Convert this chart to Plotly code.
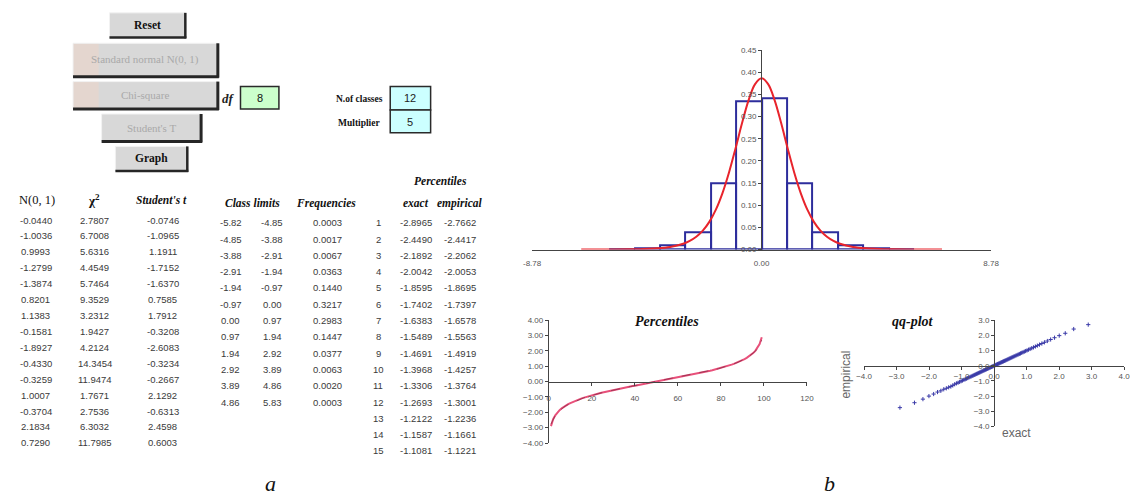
import plotly.graph_objects as go

W, H = 1140, 504

# ---------------- data ----------------
norm_vals = [-0.0440, -1.0036, 0.9993, -1.2799, -1.3874, 0.8201, 1.1383, -0.1581,
             -1.8927, -0.4330, -0.3259, 1.0007, -0.3704, 2.1834, 0.7290]
chi_vals = [2.7807, 6.7008, 5.6316, 4.4549, 5.7464, 9.3529, 3.2312, 1.9427,
            4.2124, 14.3454, 11.9474, 1.7671, 2.7536, 6.3032, 11.7985]
t_vals = [-0.0746, -1.0965, 1.1911, -1.7152, -1.6370, 0.7585, 1.7912, -0.3208,
          -2.6083, -0.3234, -0.2667, 2.1292, -0.6313, 2.4598, 0.6003]

class_lo = [-5.82, -4.85, -3.88, -2.91, -1.94, -0.97, 0.00, 0.97, 1.94, 2.92, 3.89, 4.86]
class_hi = [-4.85, -3.88, -2.91, -1.94, -0.97, 0.00, 0.97, 1.94, 2.92, 3.89, 4.86, 5.83]
frequencies = [0.0003, 0.0017, 0.0067, 0.0363, 0.1440, 0.3217, 0.2983, 0.1447,
               0.0377, 0.0063, 0.0020, 0.0003]

pct_rows = list(range(1, 16))
exact_tab = [-2.8965, -2.4490, -2.1892, -2.0042, -1.8595, -1.7402, -1.6383, -1.5489,
             -1.4691, -1.3968, -1.3306, -1.2693, -1.2122, -1.1587, -1.1081]
empirical_tab = [-2.7662, -2.4417, -2.2062, -2.0053, -1.8695, -1.7397, -1.6578, -1.5563,
                 -1.4919, -1.4257, -1.3764, -1.3001, -1.2236, -1.1661, -1.1221]

# histogram chart (density heights)
hist_heights = [0.0005, 0.002, 0.009, 0.040, 0.150, 0.334, 0.342, 0.150, 0.040, 0.009, 0.002, 0.0005]
curve_x = [-6.9, -6.0, -5.0, -4.5, -4.0, -3.5, -3.0, -2.75, -2.5, -2.25, -2.0, -1.75, -1.5,
           -1.25, -1.0, -0.75, -0.5, -0.25, 0.0, 0.25, 0.5, 0.75, 1.0, 1.25, 1.5, 1.75,
           2.0, 2.25, 2.5, 2.75, 3.0, 3.5, 4.0, 4.5, 5.0, 6.0, 6.9]
curve_y = [0.0001, 0.0002, 0.0007, 0.0013, 0.0028, 0.0059, 0.0130, 0.0194, 0.0288, 0.0426,
           0.0624, 0.0899, 0.1268, 0.1733, 0.2276, 0.2848, 0.3367, 0.3734, 0.3867, 0.3734,
           0.3367, 0.2848, 0.2276, 0.1733, 0.1268, 0.0899, 0.0624, 0.0426, 0.0288, 0.0194,
           0.0130, 0.0059, 0.0028, 0.0013, 0.0007, 0.0002, 0.0001]
hist_xticks = [-8.78, 0.00, 8.78]
hist_yticks = [0.00, 0.05, 0.10, 0.15, 0.20, 0.25, 0.30, 0.35, 0.40, 0.45]

# percentiles 1..99
percent = list(range(1, 100))
exact_pct = [-2.8965, -2.4490, -2.1892, -2.0042, -1.8595, -1.7402, -1.6383, -1.5489, -1.4691, -1.3968,
             -1.3306, -1.2693, -1.2122, -1.1587, -1.1081, -1.0601, -1.0145, -0.9709, -0.9291, -0.8889,
             -0.8500, -0.8125, -0.7761, -0.7408, -0.7064, -0.6728, -0.6401, -0.6081, -0.5767, -0.5459,
             -0.5158, -0.4860, -0.4568, -0.4280, -0.3995, -0.3714, -0.3437, -0.3162, -0.2889, -0.2619,
             -0.2351, -0.2086, -0.1822, -0.1559, -0.1297, -0.1036, -0.0777, -0.0518, -0.0259, 0.0000,
             0.0259, 0.0518, 0.0777, 0.1036, 0.1297, 0.1559, 0.1822, 0.2086, 0.2351, 0.2619,
             0.2889, 0.3162, 0.3437, 0.3714, 0.3995, 0.4280, 0.4568, 0.4860, 0.5158, 0.5459,
             0.5767, 0.6081, 0.6401, 0.6728, 0.7064, 0.7408, 0.7761, 0.8125, 0.8500, 0.8889,
             0.9291, 0.9709, 1.0145, 1.0601, 1.1081, 1.1587, 1.2122, 1.2693, 1.3306, 1.3968,
             1.4691, 1.5489, 1.6383, 1.7402, 1.8595, 2.0042, 2.1892, 2.4490, 2.8965]
empirical_pct = [-2.7662, -2.4417, -2.2062, -2.0053, -1.8695, -1.7397, -1.6578, -1.5563, -1.4919, -1.4257,
                 -1.3764, -1.3001, -1.2236, -1.1661, -1.1221, -1.0702, -1.0211, -0.9768, -0.9334, -0.8950,
                 -0.8532, -0.8177, -0.7801, -0.7445, -0.7090, -0.6760, -0.6420, -0.6107, -0.5788, -0.5473,
                 -0.5181, -0.4874, -0.4582, -0.4301, -0.4003, -0.3729, -0.3440, -0.3168, -0.2901, -0.2623,
                 -0.2360, -0.2091, -0.1830, -0.1561, -0.1302, -0.1040, -0.0781, -0.0522, -0.0262, -0.0008,
                 0.0250, 0.0510, 0.0770, 0.1028, 0.1290, 0.1551, 0.1815, 0.2080, 0.2340, 0.2610,
                 0.2875, 0.3150, 0.3420, 0.3700, 0.3975, 0.4260, 0.4550, 0.4840, 0.5140, 0.5440,
                 0.5750, 0.6060, 0.6380, 0.6710, 0.7040, 0.7390, 0.7740, 0.8100, 0.8480, 0.8870,
                 0.9270, 0.9690, 1.0120, 1.0580, 1.1050, 1.1560, 1.2090, 1.2660, 1.3270, 1.3920,
                 1.4640, 1.5430, 1.6300, 1.7300, 1.8480, 1.9850, 2.1400, 2.4200, 2.7100]
pct_xticks = [0, 20, 40, 60, 80, 100, 120]
pct_yticks = [-4, -3, -2, -1, 0, 1, 2, 3, 4]
qq_xticks = [-4, -3, -2, -1, 0, 1, 2, 3, 4]
qq_yticks = [-4, -3, -2, -1, 0, 1, 2, 3]

df_value = "8"
n_classes = "12"
multiplier = "5"

# ---------------- helpers ----------------
def px(x):
    return x / W

def py(y):
    return 1 - y / H

SERIF = "Liberation Serif, Times New Roman, serif"
SANS = "Liberation Sans, Arial, sans-serif"

shapes = []
annotations = []

def text(x, y, s, size=9.5, color="#3a3a3a", family=SANS, xanchor="center", angle=0):
    annotations.append(dict(x=px(x), y=py(y), xref="paper", yref="paper", text=s,
                            showarrow=False, xanchor=xanchor, yanchor="middle",
                            font=dict(size=size, color=color, family=family),
                            textangle=angle, borderpad=0))

def rect(x0, y0, x1, y1, fill, line_color=None, lw=0):
    shapes.append(dict(type="rect", xref="paper", yref="paper",
                       x0=px(x0), x1=px(x1), y0=py(y1), y1=py(y0),
                       fillcolor=fill, line=dict(width=lw, color=line_color or fill), layer="below"))

def line(x0, y0, x1, y1, color, lw):
    shapes.append(dict(type="line", xref="paper", yref="paper",
                       x0=px(x0), x1=px(x1), y0=py(y0), y1=py(y1),
                       line=dict(width=lw, color=color)))

def button(x0, y0, x1, y1, label, enabled, pink=False, shadow=2.5):
    rect(x0, y0, x1, y1, "#d8d8d8")
    if pink:
        rect(x0, y0, x0 + 26, y1, "#e4d6cf")
    line(x0, y0, x1, y0, "#f2f2f2", 1)
    line(x0, y0, x0, y1, "#f2f2f2", 1)
    line(x1, y0, x1, y1 + 1, "#262626", shadow)
    line(x0, y1, x1 + 1, y1, "#262626", shadow)
    if enabled:
        text((x0 + x1) / 2, (y0 + y1) / 2, "<b>%s</b>" % label, size=11.5, color="#111", family=SERIF)
    else:
        text((x0 + x1) / 2, (y0 + y1) / 2, label, size=11, color="#a9a9a9", family=SERIF)

# ---------------- control panel ----------------
button(102, 9, 179, 34, "Reset", True)
button(65, 40, 212, 74, "Standard normal N(0, 1)", False, pink=True, shadow=3)
button(65, 79, 212, 107, "Chi-square", False, pink=True, shadow=3)
button(94, 112, 195, 140, "Student's T", False, shadow=3)
button(108, 145, 181, 170, "Graph", True)

text(223, 96, "<b><i>df</i></b>", size=13, color="#222", family=SERIF)
rect(235, 84, 274, 107, "#ccffcc", "#2a2a2a", 1.5)
text(254.5, 96, df_value, size=11, color="#111", family=SANS)

text(381, 97, "<b>N.of classes</b>", size=9.5, color="#111", family=SERIF, xanchor="right")
text(378, 121, "<b>Multiplier</b>", size=9.5, color="#111", family=SERIF, xanchor="right")
rect(387, 84, 428, 108, "#ccffff", "#2a2a2a", 1.5)
rect(387, 108, 428, 131, "#ccffff", "#2a2a2a", 1.5)
text(407.5, 96, n_classes, size=11, color="#222")
text(407.5, 120, multiplier, size=11, color="#222")

# ---------------- tables ----------------
text(28, 200, "N(0, 1)", size=12.5, color="#111", family=SERIF)
text(86, 200, "<b>χ<sup>2</sup></b>", size=13, color="#111", family=SERIF)
text(155, 200, "<b><i>Student's t</i></b>", size=11.5, color="#111", family=SERIF)
row_y1 = [220 + 16.2 * i for i in range(len(norm_vals))]
for i in range(len(norm_vals)):
    text(27, row_y1[i], "%.4f" % norm_vals[i])
    text(87, row_y1[i], "%.4f" % chi_vals[i])
    text(156, row_y1[i], "%.4f" % t_vals[i])

text(438, 180, "<b><i>Percentiles</i></b>", size=11.5, color="#111", family=SERIF)
text(247, 203, "<b><i>Class limits</i></b>", size=11.5, color="#111", family=SERIF)
text(322, 203, "<b><i>Frequencies</i></b>", size=11.5, color="#111", family=SERIF)
text(413, 203, "<b><i>exact</i></b>", size=11.5, color="#111", family=SERIF)
text(458, 203, "<b><i>empirical</i></b>", size=11.5, color="#111", family=SERIF)
row_y2 = [222.7 + 16.6 * i for i in range(len(pct_rows))]
for i in range(len(class_lo)):
    text(225, row_y2[i], "%.2f" % class_lo[i])
    text(267, row_y2[i], "%.2f" % class_hi[i])
    text(323, row_y2[i], "%.4f" % frequencies[i])
for i in range(len(pct_rows)):
    text(375, row_y2[i], str(pct_rows[i]))
    text(413, row_y2[i], "%.4f" % exact_tab[i])
    text(458, row_y2[i], "%.4f" % empirical_tab[i])

text(265, 488, "<i>a</i>", size=22, color="#111", family=SERIF)
text(833, 488, "<i>b</i>", size=22, color="#111", family=SERIF)

# chart titles / labels
text(668, 323, "<b><i>Percentiles</i></b>", size=14, color="#111", family=SERIF)
text(918, 323, "<b><i>qq-plot</i></b>", size=14, color="#111", family=SERIF)
text(850, 377, "empirical", size=12, color="#666", family=SANS, angle=-90)
text(1023, 437, "exact", size=12, color="#666", family=SANS)

# ---------------- figure ----------------
fig = go.Figure()

bar_x = [(a + b) / 2 for a, b in zip(class_lo, class_hi)]
bar_w = [b - a for a, b in zip(class_lo, class_hi)]
fig.add_trace(go.Bar(x=bar_x, y=hist_heights, width=bar_w, xaxis="x", yaxis="y",
                     marker=dict(color="rgba(0,0,0,0)", line=dict(color="#2d2d9c", width=2))))
fig.add_trace(go.Scatter(x=curve_x, y=curve_y, mode="lines", xaxis="x", yaxis="y",
                         line=dict(color="#e8242c", width=2, shape="spline")))

fig.add_trace(go.Scatter(x=percent, y=exact_pct, mode="lines", xaxis="x2", yaxis="y2",
                         line=dict(color="#e8507a", width=2)))
fig.add_trace(go.Scatter(x=percent, y=empirical_pct, mode="lines", xaxis="x2", yaxis="y2",
                         line=dict(color="#5a1a30", width=1, dash="dash"), opacity=0.5))

fig.add_trace(go.Scatter(x=exact_pct, y=empirical_pct, mode="markers", xaxis="x3", yaxis="y3",
                         marker=dict(symbol="cross-thin", size=3,
                                     line=dict(width=1, color="#3b3ba8"), color="#3b3ba8")))

tickfont = dict(size=8, color="#555", family=SANS)
axis_common = dict(showgrid=False, zeroline=False, showline=True, linecolor="#444",
                   linewidth=1, tickfont=tickfont, tickcolor="#444", fixedrange=True)

# histogram axes
hy0, hy1 = py(250), py(47)
fig.update_layout(
    xaxis=dict(domain=[px(531), px(997)], range=[-8.78, 8.78], anchor="y",
               tickvals=hist_xticks, ticktext=["%.2f" % v for v in hist_xticks],
               ticks="", ticklabelstandoff=6, **axis_common),
    yaxis=dict(domain=[hy0, hy1], range=[0, 0.45], anchor="free", position=px(763.5),
               tickvals=hist_yticks, tickformat=".2f", ticks="outside", ticklen=3, **axis_common),
)

# percentiles axes
p0, p1 = py(447), py(322)
fig.update_layout(
    xaxis2=dict(domain=[px(548), px(810)], range=[0, 120], anchor="free",
                position=(p0 + p1) / 2, tickvals=pct_xticks, ticks="outside", ticklen=3,
                ticklabelstandoff=6, **axis_common),
    yaxis2=dict(domain=[p0, p1], range=[-4, 4], anchor="x2", tickvals=pct_yticks,
                tickformat=".2f", ticks="outside", ticklen=3, **axis_common),
)

# qq axes
q0, q1 = py(430), py(322)
fig.update_layout(
    xaxis3=dict(domain=[px(868), px(1132)], range=[-4, 4], anchor="free",
                position=q0 + (q1 - q0) * 4 / 7, tickvals=qq_xticks, tickformat=".1f",
                ticks="outside", ticklen=3, **axis_common),
    yaxis3=dict(domain=[q0, q1], range=[-4, 3], anchor="free", position=px(1000),
                tickvals=qq_yticks, tickformat=".1f", ticks="outside", ticklen=3, **axis_common),
)

fig.update_layout(width=W, height=H, autosize=False, margin=dict(l=0, r=0, t=0, b=0),
                  paper_bgcolor="white", plot_bgcolor="rgba(0,0,0,0)", showlegend=False,
                  shapes=shapes, annotations=annotations, bargap=0)

fig.write_html("out.html", config=dict(displayModeBar=False))
